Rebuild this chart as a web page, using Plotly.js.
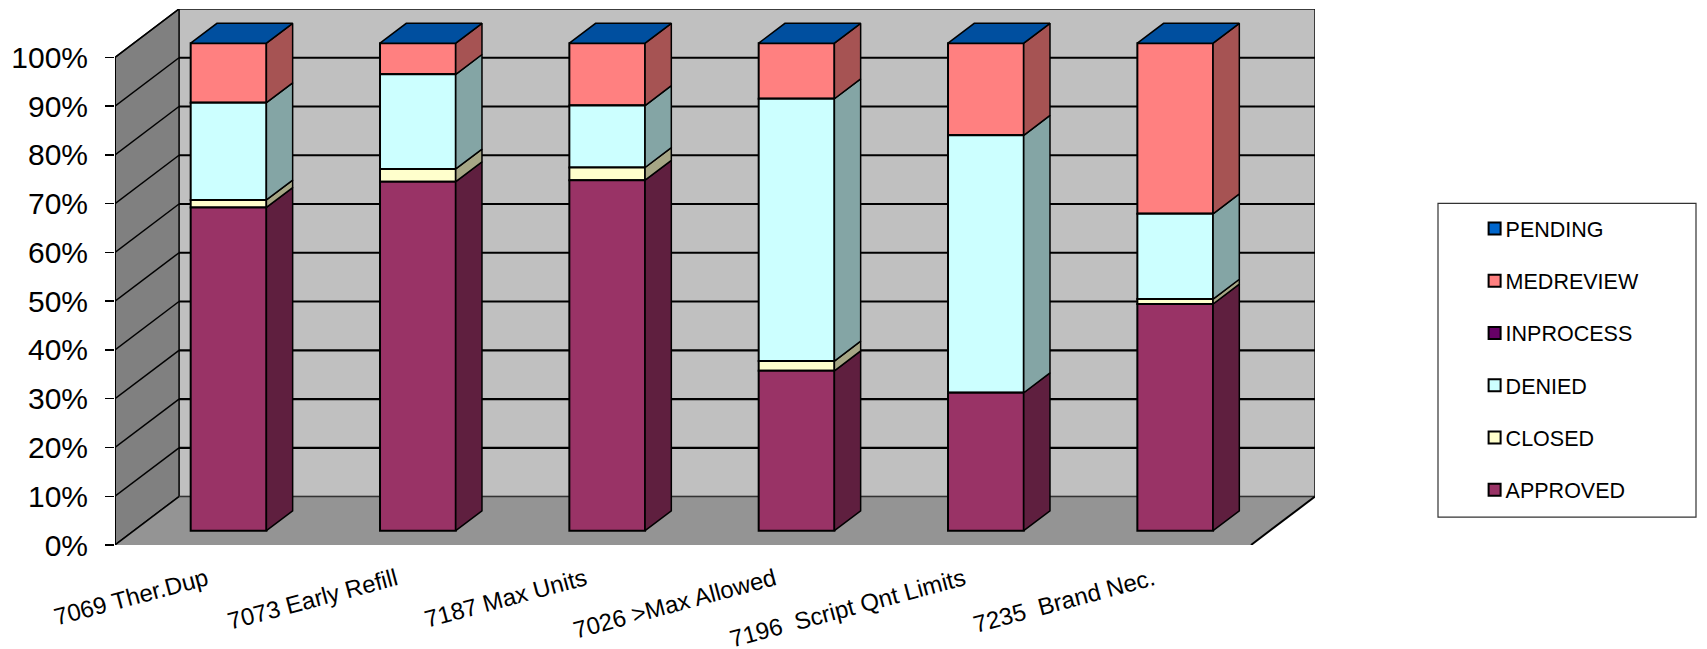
<!DOCTYPE html>
<html>
<head>
<meta charset="utf-8">
<script src="https://cdn.plot.ly/plotly-3.0.1.min.js"></script>
<style>html,body{margin:0;padding:0;background:#fff}#chart{width:1707px;height:649px}</style>
</head>
<body>
<div id="chart"></div>
<script>
// Data (percent of each category)
const categories = ['7069 Ther.Dup','7073 Early Refill','7187 Max Units','7026 >Max Allowed','7196  Script Qnt Limits','7235  Brand Nec.'];
const approved  = [66.3, 71.6, 71.9, 32.8, 28.3, 46.5];
const closed    = [1.55, 2.6, 2.6, 2.0, 0, 1.0];
const denied    = [19.95, 19.4, 12.7, 53.8, 52.8, 17.5];
const inprocess = [0, 0, 0, 0, 0, 0];
const medreview = [12.2, 6.4, 12.8, 11.4, 18.9, 35.0];
const pending   = [0, 0, 0, 0, 0, 0];
const seriesNames = ['APPROVED','CLOSED','DENIED','INPROCESS','MEDREVIEW','PENDING'];
const seriesValues = [approved, closed, denied, inprocess, medreview, pending];
const frontColors = ['#993366','#FFFFCC','#CCFFFF','#660066','#FF8080','#0066CC'];
const sideColors  = ['#5F1F3F','#A6A685','#84A5A5','#420042','#A65353','#004F9F'];
const topColor = '#004F9F';
const yTicks = [0,10,20,30,40,50,60,70,80,90,100];

// Oblique projection, in axis units
const depthX = 0.338, depthY = 9.94;           // full wall depth
const barStart = 0.295, barDepth = 0.41;       // bar position in the depth
const barWidth = 0.4;
const liftX = barStart * depthX, liftY = barStart * depthY;
const ddx = barDepth * depthX, ddy = barDepth * depthY;
const n = categories.length;
const barX = categories.map((c, i) => i + 0.5 + liftX);

const bars = [], faces = [];
const cum = categories.map(() => 0);
seriesNames.forEach((name, s) => {
  const base = cum.map(c => c + liftY);
  const vals = seriesValues[s];
  // unshift: the legend lists the last series first
  bars.unshift({
    type: 'bar', name, x: barX, y: vals, base, width: barWidth,
    legendgroup: name,
    marker: {color: frontColors[s], line: {color: '#000', width: 2}},
    hoverinfo: 'name+y'
  });
  vals.forEach((v, i) => {
    if (v <= 0) return;
    const x1 = barX[i] + barWidth / 2;
    const b = cum[i] + liftY, t = b + v;
    faces.push({
      type: 'scatter', mode: 'lines', showlegend: false, hoverinfo: 'skip',
      x: [x1, x1 + ddx, x1 + ddx, x1, x1],
      y: [b, b + ddy, t + ddy, t, b],
      fill: 'toself', fillcolor: sideColors[s],
      line: {color: '#000', width: 1.5}
    });
    cum[i] += v;
  });
});
// top faces
categories.forEach((c, i) => {
  const x0 = barX[i] - barWidth / 2, x1 = barX[i] + barWidth / 2, t = cum[i] + liftY;
  faces.push({
    type: 'scatter', mode: 'lines', showlegend: false, hoverinfo: 'skip',
    x: [x0, x1, x1 + ddx, x0 + ddx, x0],
    y: [t, t, t + ddy, t + ddy, t],
    fill: 'toself', fillcolor: topColor,
    line: {color: '#000', width: 1.5}
  });
});
const traces = bars.concat(faces);

const poly = (pts) => 'M' + pts.map(p => p[0] + ',' + p[1]).join('L') + 'Z';
const shapes = [];
const pushPoly = (pts, fill, lineColor, w) => shapes.push({
  type: 'path', layer: 'below', xref: 'x', yref: 'y', path: poly(pts),
  fillcolor: fill, line: {color: lineColor, width: w}
});
const pushLine = (x0, y0, x1, y1, w, col) => shapes.push({
  type: 'line', layer: 'below', xref: 'x', yref: 'y', x0, y0, x1, y1,
  line: {color: col || '#000', width: w}
});
// walls + floor
pushPoly([[depthX,depthY],[n+depthX,depthY],[n+depthX,100+depthY],[depthX,100+depthY]], '#C0C0C0', '#111', 1.5);
pushPoly([[0,0],[depthX,depthY],[depthX,100+depthY],[0,100]], '#808080', '#111', 1.5);
pushPoly([[0,0],[n,0],[n+depthX,depthY],[depthX,depthY]], '#949494', 'rgba(0,0,0,0)', 0);
// gridlines
yTicks.forEach(k => {
  if (k > 0 && k < 100) pushLine(depthX, k + depthY, n + depthX, k + depthY, 2.2);
  pushLine(0, k, depthX, k + depthY, 1.5);
});
pushLine(depthX, depthY, n + depthX, depthY, 1.2, '#333');
pushLine(n, 0, n + depthX, depthY, 2);
pushLine(0, 0, 0, 100, 2);
// legend frame
const plotW = 1707 - 115 - 392, plotH = 649 - 8.5 - 104;
shapes.push({type:'rect', layer:'below', xref:'paper', yref:'paper',
  x0:(1438-115)/plotW, x1:(1696-115)/plotW, y0:(545-517)/plotH, y1:(545-203)/plotH,
  fillcolor:'#fff', line:{color:'#333', width:1.2}});

const layout = {
  width: 1707, height: 649,
  margin: {l: 115, r: 392, t: 8.5, b: 104, pad: 0},
  paper_bgcolor: '#fff', plot_bgcolor: 'rgba(0,0,0,0)',
  barmode: 'overlay',
  font: {family: '"Liberation Sans", Arial, sans-serif', color: '#000'},
  showlegend: true,
  legend: {
    xref: 'container', yref: 'container', x: 1480.6/1707, y: 1 - 208/649, xanchor: 'left', yanchor: 'top',
    traceorder: 'grouped', tracegroupgap: 21.3, indentation: -15,
    font: {size: 21.5, color: '#000'}, bgcolor: 'rgba(0,0,0,0)', borderwidth: 0
  },
  xaxis: {
    range: [0, n + depthX], showgrid: false, zeroline: false, showline: false,
    tickmode: 'array', tickvals: categories.map((c, i) => i + 0.484), ticktext: categories,
    tickangle: -15, ticks: '', ticklabelstandoff: 15, tickfont: {size: 24, color: '#000'}, automargin: false
  },
  yaxis: {
    range: [0, 100 + depthY], showgrid: false, zeroline: false, showline: false,
    tickmode: 'array', tickvals: yTicks, ticktext: yTicks.map(k => k + '%'),
    ticks: 'outside', ticklen: 9, tickwidth: 1.5, tickcolor: '#000',
    ticklabelstandoff: 11, tickfont: {size: 30, color: '#000'}, automargin: false
  },
  shapes
};
Plotly.newPlot('chart', traces, layout, {staticPlot: true, displayModeBar: false}).then(() => {
  // The reference keeps the legend swatches tight against their labels.
  document.querySelectorAll('.legend .legendsymbols').forEach(el => el.setAttribute('transform', 'translate(9,0)'));
});
</script>
</body>
</html>
